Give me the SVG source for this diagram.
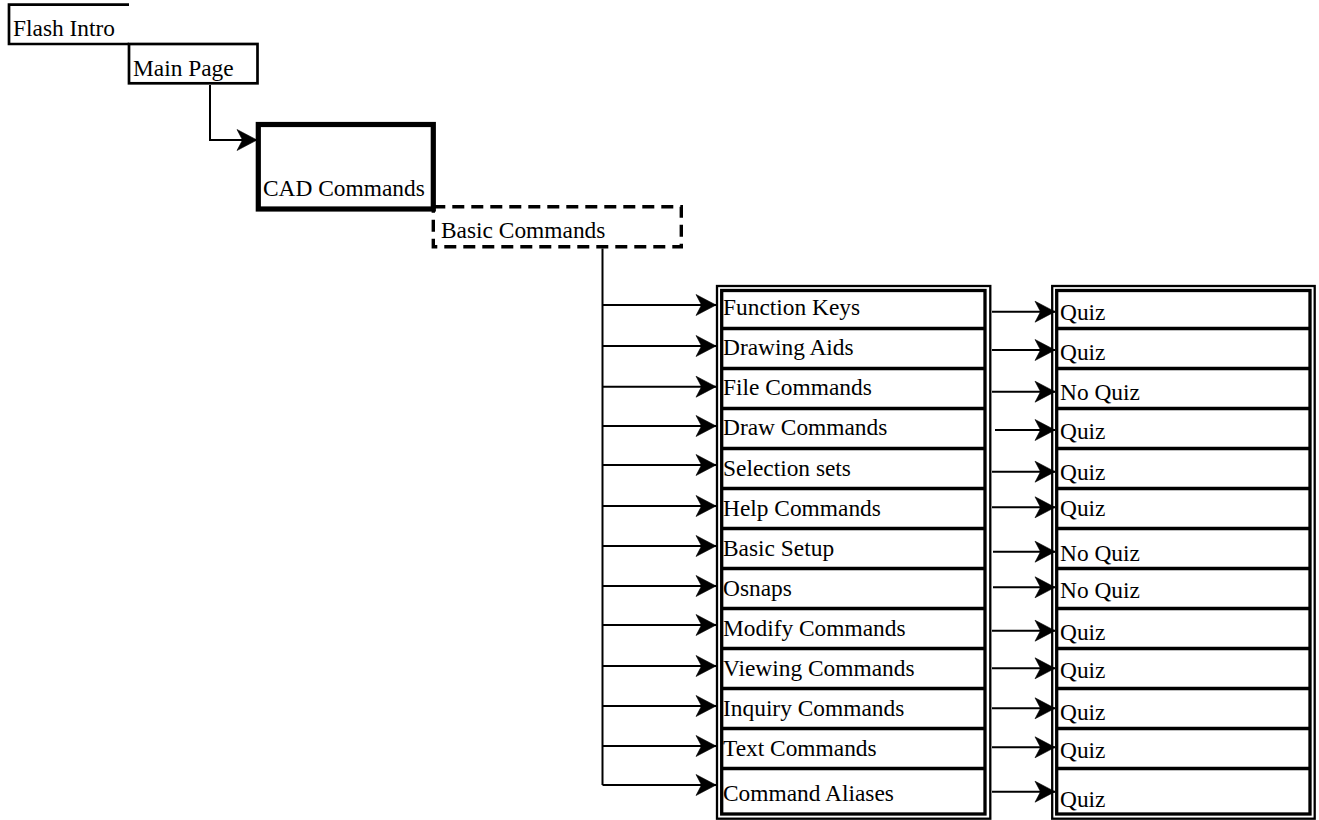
<svg xmlns="http://www.w3.org/2000/svg" width="1319" height="820" viewBox="0 0 1319 820">
<style>
.t{font-family:"Liberation Serif","Times New Roman",serif;font-size:23.4px;fill:#000}
.box{fill:none;stroke:#000;stroke-width:2.7}
.thick{fill:none;stroke:#000;stroke-width:5.2}
.dash{fill:none;stroke:#000;stroke-width:3.4;stroke-dasharray:12 7}
.outer{fill:none;stroke:#000;stroke-width:2.3}
.inner{fill:none;stroke:#000;stroke-width:3.3}
.sep{stroke:#000;stroke-width:3.3}
.conn{fill:none;stroke:#000;stroke-width:2;marker-end:url(#ah)}
.trunk{fill:none;stroke:#000;stroke-width:2}
</style>
<defs>
<marker id="ah" viewBox="-21 -11 21 22" refX="0" refY="0" markerWidth="21" markerHeight="22" markerUnits="userSpaceOnUse" orient="auto" overflow="visible">
<path d="M0,0 L-20,-10.5 L-14.5,0 L-20,10.5 Z" fill="#000" stroke="#000" stroke-width="0.6" stroke-linejoin="miter"/>
</marker>
</defs>
<rect width="1319" height="820" fill="#fff"/>

<g id="flash-intro">
<path class="box" d="M129,4.7 H9 V44 H129"/>
<text class="t" x="13" y="36">Flash Intro</text>
</g>
<g id="main-page">
<rect class="box" x="129" y="44" width="128.5" height="39.3"/>
<text class="t" x="133" y="76">Main Page</text>
</g>
<g id="cad-commands">
<rect class="thick" x="258.3" y="124.5" width="175" height="84.5"/>
<text class="t" x="263" y="196">CAD Commands</text>
</g>
<g id="basic-commands">
<rect class="dash" x="433.3" y="206.7" width="248" height="40"/>
<text class="t" x="441" y="238.3">Basic Commands</text>
</g>

<g id="topics-column">
<rect class="outer" x="717" y="286" width="273.3" height="532.7"/>
<rect class="inner" x="721.7" y="290.5" width="263.3" height="523.5"/>
</g>
<g id="quiz-column">
<rect class="outer" x="1052.2" y="286" width="262.5" height="532.7"/>
<rect class="inner" x="1056.7" y="290.5" width="253.3" height="523.5"/>
</g>

<g id="t-function-keys"><text class="t" x="723" y="315">Function Keys</text><line class="sep" x1="721.7" y1="328.5" x2="985" y2="328.5"/></g>
<g id="t-drawing-aids"><text class="t" x="723" y="355">Drawing Aids</text><line class="sep" x1="721.7" y1="368.5" x2="985" y2="368.5"/></g>
<g id="t-file-commands"><text class="t" x="723" y="395">File Commands</text><line class="sep" x1="721.7" y1="408.5" x2="985" y2="408.5"/></g>
<g id="t-draw-commands"><text class="t" x="723" y="435">Draw Commands</text><line class="sep" x1="721.7" y1="448.5" x2="985" y2="448.5"/></g>
<g id="t-selection-sets"><text class="t" x="723" y="476">Selection sets</text><line class="sep" x1="721.7" y1="488.5" x2="985" y2="488.5"/></g>
<g id="t-help-commands"><text class="t" x="723" y="516">Help Commands</text><line class="sep" x1="721.7" y1="528.5" x2="985" y2="528.5"/></g>
<g id="t-basic-setup"><text class="t" x="723" y="556">Basic Setup</text><line class="sep" x1="721.7" y1="568.5" x2="985" y2="568.5"/></g>
<g id="t-osnaps"><text class="t" x="723" y="596">Osnaps</text><line class="sep" x1="721.7" y1="608.5" x2="985" y2="608.5"/></g>
<g id="t-modify-commands"><text class="t" x="723" y="636">Modify Commands</text><line class="sep" x1="721.7" y1="648.5" x2="985" y2="648.5"/></g>
<g id="t-viewing-commands"><text class="t" x="723" y="675.5">Viewing Commands</text><line class="sep" x1="721.7" y1="688.5" x2="985" y2="688.5"/></g>
<g id="t-inquiry-commands"><text class="t" x="723" y="716">Inquiry Commands</text><line class="sep" x1="721.7" y1="728.5" x2="985" y2="728.5"/></g>
<g id="t-text-commands"><text class="t" x="723" y="756">Text Commands</text><line class="sep" x1="721.7" y1="768.5" x2="985" y2="768.5"/></g>
<g id="t-command-aliases"><text class="t" x="723" y="800.7">Command Aliases</text></g>

<g id="q-1"><text class="t" x="1060" y="320">Quiz</text><line class="sep" x1="1056.7" y1="328.5" x2="1310" y2="328.5"/></g>
<g id="q-2"><text class="t" x="1060" y="360">Quiz</text><line class="sep" x1="1056.7" y1="368.5" x2="1310" y2="368.5"/></g>
<g id="q-3"><text class="t" x="1060" y="400">No Quiz</text><line class="sep" x1="1056.7" y1="408.5" x2="1310" y2="408.5"/></g>
<g id="q-4"><text class="t" x="1060" y="439">Quiz</text><line class="sep" x1="1056.7" y1="448.5" x2="1310" y2="448.5"/></g>
<g id="q-5"><text class="t" x="1060" y="480">Quiz</text><line class="sep" x1="1056.7" y1="488.5" x2="1310" y2="488.5"/></g>
<g id="q-6"><text class="t" x="1060" y="516">Quiz</text><line class="sep" x1="1056.7" y1="528.5" x2="1310" y2="528.5"/></g>
<g id="q-7"><text class="t" x="1060" y="560.7">No Quiz</text><line class="sep" x1="1056.7" y1="568.5" x2="1310" y2="568.5"/></g>
<g id="q-8"><text class="t" x="1060" y="598">No Quiz</text><line class="sep" x1="1056.7" y1="608.5" x2="1310" y2="608.5"/></g>
<g id="q-9"><text class="t" x="1060" y="640">Quiz</text><line class="sep" x1="1056.7" y1="648.5" x2="1310" y2="648.5"/></g>
<g id="q-10"><text class="t" x="1060" y="678">Quiz</text><line class="sep" x1="1056.7" y1="688.5" x2="1310" y2="688.5"/></g>
<g id="q-11"><text class="t" x="1060" y="720">Quiz</text><line class="sep" x1="1056.7" y1="728.5" x2="1310" y2="728.5"/></g>
<g id="q-12"><text class="t" x="1060" y="758">Quiz</text><line class="sep" x1="1056.7" y1="768.5" x2="1310" y2="768.5"/></g>
<g id="q-13"><text class="t" x="1060" y="806.7">Quiz</text></g>

<g id="connectors">
<path class="conn" d="M210,85 V140 H257"/>
<path class="trunk" d="M602.5,248.5 V785"/>
<path class="conn" d="M602.5,305 H716"/>
<path class="conn" d="M602.5,346 H716"/>
<path class="conn" d="M602.5,386.7 H716"/>
<path class="conn" d="M602.5,426 H716"/>
<path class="conn" d="M602.5,465 H716"/>
<path class="conn" d="M602.5,506 H716"/>
<path class="conn" d="M602.5,546 H716"/>
<path class="conn" d="M602.5,586 H716"/>
<path class="conn" d="M602.5,625 H716"/>
<path class="conn" d="M602.5,666 H716"/>
<path class="conn" d="M602.5,706 H716"/>
<path class="conn" d="M602.5,746 H716"/>
<path class="conn" d="M602.5,785 H716"/>
<path class="conn" d="M992,311.7 H1055"/>
<path class="conn" d="M992,350 H1055"/>
<path class="conn" d="M992,391.7 H1055"/>
<path class="conn" d="M995,430 H1055"/>
<path class="conn" d="M992,471.7 H1055"/>
<path class="conn" d="M992,507.3 H1055"/>
<path class="conn" d="M993,551.7 H1055"/>
<path class="conn" d="M993,587.3 H1055"/>
<path class="conn" d="M992,630.7 H1055"/>
<path class="conn" d="M992,668.3 H1055"/>
<path class="conn" d="M992,708.3 H1055"/>
<path class="conn" d="M992,747.3 H1055"/>
<path class="conn" d="M992,791.7 H1055"/>
</g>
</svg>
